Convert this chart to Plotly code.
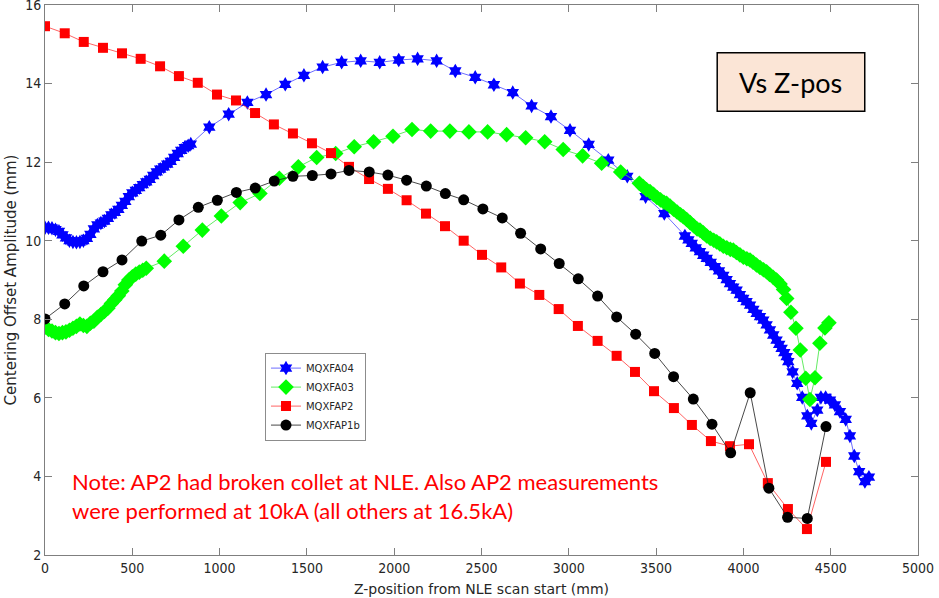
import plotly.graph_objects as go

# ---------------- data ----------------
a04_x = [0, 20, 40, 60, 80, 100, 120, 140, 160, 180, 200, 220, 240, 260, 280, 300, 320, 340, 360, 380,
         400, 420, 440, 460, 480, 500, 520, 540, 560, 580, 600, 620, 640, 660, 680, 700, 720, 740, 760, 780,
         800, 820, 835,
         941, 1052, 1159, 1266, 1376, 1483, 1590, 1699, 1808, 1917, 2026, 2134, 2243, 2350, 2464, 2571, 2679,
         2787, 2898, 3007, 3114, 3226, 3335, 3440, 3547,
         3665, 3685, 3704, 3727, 3751, 3770, 3790, 3813, 3837, 3860, 3885, 3904, 3923, 3942, 3961, 3980, 3999,
         4018, 4038, 4057, 4076, 4095, 4114, 4133, 4152, 4171, 4190, 4205, 4219, 4234, 4248, 4257,
         4282, 4308, 4337, 4366, 4389, 4423, 4444, 4471, 4496, 4524, 4553, 4586, 4610, 4635, 4663, 4696, 4719]
a04_y = [10.33, 10.33, 10.32, 10.28, 10.24, 10.15, 10.07, 10.00, 9.97, 9.96, 9.97, 10.00, 10.06, 10.16, 10.30,
         10.40, 10.45, 10.50, 10.57, 10.66, 10.72, 10.80, 10.90, 11.00, 11.12, 11.22, 11.28, 11.35, 11.43, 11.50,
         11.56, 11.66, 11.75, 11.82, 11.88, 11.95, 12.02, 12.12, 12.22, 12.30, 12.37, 12.42, 12.46,
         12.89, 13.22, 13.52, 13.72, 13.98, 14.21, 14.42, 14.54, 14.58, 14.54, 14.60, 14.63, 14.58, 14.32, 14.16,
         13.97, 13.77, 13.43, 13.16, 12.81, 12.45, 12.05, 11.64, 11.12, 10.69,
         10.12, 10.02, 9.93, 9.82, 9.72, 9.63, 9.55, 9.45, 9.34, 9.23, 9.12, 9.01, 8.91, 8.82, 8.74, 8.63, 8.53,
         8.45, 8.36, 8.25, 8.15, 8.07, 7.98, 7.86, 7.73, 7.60, 7.47, 7.36, 7.26, 7.15, 7.05, 6.92,
         6.66, 6.37, 6.01, 5.54, 5.35, 5.69, 6.01, 6.01, 5.94, 5.82, 5.65, 5.45, 5.03, 4.52, 4.12, 3.87, 3.98]

a03_x = [0, 20, 40, 60, 80, 100, 120, 140, 160, 180, 200, 220, 240, 260, 280, 300, 320, 340, 360, 380,
         400, 420, 440, 460, 480, 500, 520, 540, 560, 580,
         683, 792, 901, 1010, 1118, 1231, 1342, 1451, 1556, 1665, 1771, 1882, 1993, 2102, 2209, 2319, 2428,
         2535, 2644, 2753, 2862, 2968, 3079, 3188, 3297,
         3404, 3425, 3445, 3465, 3485, 3505, 3525, 3545, 3560, 3580, 3600, 3620, 3640, 3656, 3675, 3695, 3715,
         3735, 3751, 3770, 3790, 3810, 3830, 3847, 3865, 3885, 3905, 3925, 3942, 3960, 3980, 4000, 4020, 4038,
         4055, 4075, 4095, 4115, 4133, 4150, 4170, 4190, 4210, 4230, 4248,
         4272, 4301, 4326, 4357, 4381, 4410, 4438, 4467, 4490]
a03_y = [7.80, 7.74, 7.70, 7.66, 7.64, 7.66, 7.68, 7.72, 7.77, 7.82, 7.88, 7.84, 7.82, 7.90, 7.95, 8.05, 8.12,
         8.20, 8.28, 8.40, 8.50, 8.60, 8.72, 8.88, 9.00, 9.08, 9.15, 9.20, 9.25, 9.30,
         9.48, 9.86, 10.27, 10.63, 10.97, 11.20, 11.59, 11.88, 12.12, 12.22, 12.39, 12.52, 12.66, 12.83, 12.79,
         12.79, 12.77, 12.77, 12.70, 12.62, 12.52, 12.32, 12.16, 11.97, 11.75,
         11.46, 11.38, 11.30, 11.25, 11.18, 11.10, 11.04, 10.98, 10.95, 10.88, 10.80, 10.73, 10.66, 10.61, 10.54,
         10.46, 10.38, 10.30, 10.27, 10.20, 10.12, 10.06, 10.01, 9.97, 9.92, 9.86, 9.82, 9.78, 9.76, 9.70, 9.64,
         9.58, 9.54, 9.51, 9.45, 9.38, 9.32, 9.26, 9.21, 9.14, 9.07, 9.00, 8.90, 8.76, 8.53,
         8.18, 7.77, 7.22, 6.50, 5.96, 6.51, 7.39, 7.78, 7.91]

ap2_x = [0, 113, 222, 332, 441, 548, 659, 767, 875, 985, 1094, 1203, 1311, 1420, 1529, 1638, 1741, 1856,
         1964, 2071, 2182, 2291, 2398, 2503, 2613, 2720, 2831, 2942, 3052, 3165, 3274, 3379, 3488, 3602,
         3705, 3814, 3923, 4032, 4140, 4255, 4364, 4473]
ap2_y = [15.46, 15.28, 15.06, 14.91, 14.77, 14.63, 14.44, 14.19, 14.02, 13.72, 13.57, 13.25, 12.96, 12.73,
         12.48, 12.23, 11.88, 11.57, 11.32, 11.03, 10.69, 10.37, 10.00, 9.64, 9.32, 8.91, 8.62, 8.26, 7.83,
         7.45, 7.07, 6.66, 6.17, 5.74, 5.31, 4.90, 4.77, 4.82, 3.83, 3.17, 2.66, 4.37]

ap1b_x = [0, 113, 222, 332, 441, 554, 663, 767, 878, 987, 1096, 1204, 1313, 1420, 1531, 1638, 1741, 1857,
          1964, 2071, 2184, 2293, 2398, 2508, 2619, 2724, 2839, 2945, 3054, 3165, 3274, 3383, 3492, 3600,
          3713, 3820, 3927, 4039, 4146, 4253, 4366, 4473]
ap1b_y = [8.01, 8.39, 8.85, 9.21, 9.51, 9.99, 10.14, 10.53, 10.85, 11.03, 11.23, 11.34, 11.52, 11.64, 11.66,
          11.70, 11.79, 11.75, 11.67, 11.54, 11.39, 11.20, 11.04, 10.81, 10.58, 10.19, 9.79, 9.42, 9.03, 8.59,
          8.06, 7.62, 7.13, 6.54, 5.97, 5.33, 4.60, 6.13, 3.70, 2.96, 2.93, 5.27]

series_names = ["MQXFA04", "MQXFA03", "MQXFAP2", "MQXFAP1b"]
x_ticks = [0, 500, 1000, 1500, 2000, 2500, 3000, 3500, 4000, 4500, 5000]
y_ticks = [2, 4, 6, 8, 10, 12, 14, 16]

# ---------------- figure ----------------
fig = go.Figure()
styles = [
    (a04_x, a04_y, "#0000ff", "rgba(60,60,255,0.75)", "hexagram", 11),
    (a03_x, a03_y, "#00ff00", "rgba(60,230,60,0.8)", "diamond", 12),
    (ap2_x, ap2_y, "#ff0000", "rgba(255,60,60,0.8)", "square", 10),
    (ap1b_x, ap1b_y, "#000000", "rgba(40,40,40,0.85)", "circle", 11),
]
for name, (xs, ys, mc, lc, sym, sz) in zip(series_names, styles):
    fig.add_trace(go.Scatter(
        x=xs, y=ys, name=name, mode="lines+markers",
        line=dict(color=lc, width=1),
        marker=dict(symbol=sym, size=sz, color=mc, line=dict(width=0)),
    ))

tick_font = dict(family="DejaVu Sans Condensed, DejaVu Sans, sans-serif", size=14, color="#262626")
title_font = dict(family="DejaVu Sans, sans-serif", size=14, color="#262626")
fig.update_layout(
    width=939, height=598,
    margin=dict(l=45, r=21, t=5, b=43),
    paper_bgcolor="white", plot_bgcolor="white",
    font=tick_font,
    showlegend=True,
    legend=dict(
        x=0.252, y=0.368, xanchor="left", yanchor="top",
        bgcolor="white", bordercolor="#8c8c8c", borderwidth=1,
        font=dict(family="DejaVu Sans, sans-serif", size=10, color="#262626"),
        tracegroupgap=0, itemwidth=30,
    ),
    xaxis=dict(
        range=[0, 5000], tickvals=x_ticks, ticktext=[str(v) for v in x_ticks],
        ticks="inside", ticklen=7, tickcolor="#7f7f7f", showline=True, linecolor="#7f7f7f",
        linewidth=1, mirror="ticks", showgrid=False, zeroline=False, automargin=False,
        ticklabeloverflow="allow", tickfont=tick_font,
        title=dict(text="Z-position from NLE scan start (mm)", standoff=9, font=title_font),
    ),
    yaxis=dict(
        range=[2, 16], tickvals=y_ticks, ticktext=[str(v) for v in y_ticks],
        ticks="inside", ticklen=7, tickcolor="#7f7f7f", showline=True, linecolor="#7f7f7f",
        linewidth=1, mirror="ticks", showgrid=False, zeroline=False, automargin=False,
        ticklabeloverflow="allow", tickfont=tick_font,
        title=dict(text="Centering Offset Amplitude (mm)", standoff=4,
                   font=dict(family="DejaVu Sans, sans-serif", size=15, color="#262626")),
    ),
)

# "Vs Z-pos" box
fig.add_shape(type="rect", xref="paper", yref="paper", x0=0.770, x1=0.939, y0=0.807, y1=0.913,
              fillcolor="#fbe5d6", line=dict(color="black", width=1.5), layer="above")
fig.add_annotation(xref="paper", yref="paper", x=0.8545, y=0.86, text="Vs Z-pos", showarrow=False,
                   font=dict(family="Lato, Open Sans, sans-serif", size=27, color="black"),
                   xanchor="center", yanchor="middle")

# red note
fig.add_annotation(xref="paper", yref="paper", x=(70 - 45) / 873, y=(555 - 496) / 550,
                   text="Note: AP2 had broken collet at NLE. Also AP2 measurements<br>were performed at 10kA (all others at 16.5kA)",
                   showarrow=False, align="left", xanchor="left", yanchor="middle",
                   font=dict(family="Lato, Open Sans, sans-serif", size=22, color="#ff0000"))

fig.write_html("out.html", config={"displayModeBar": False},
               post_script="document.body.style.margin='0';")
